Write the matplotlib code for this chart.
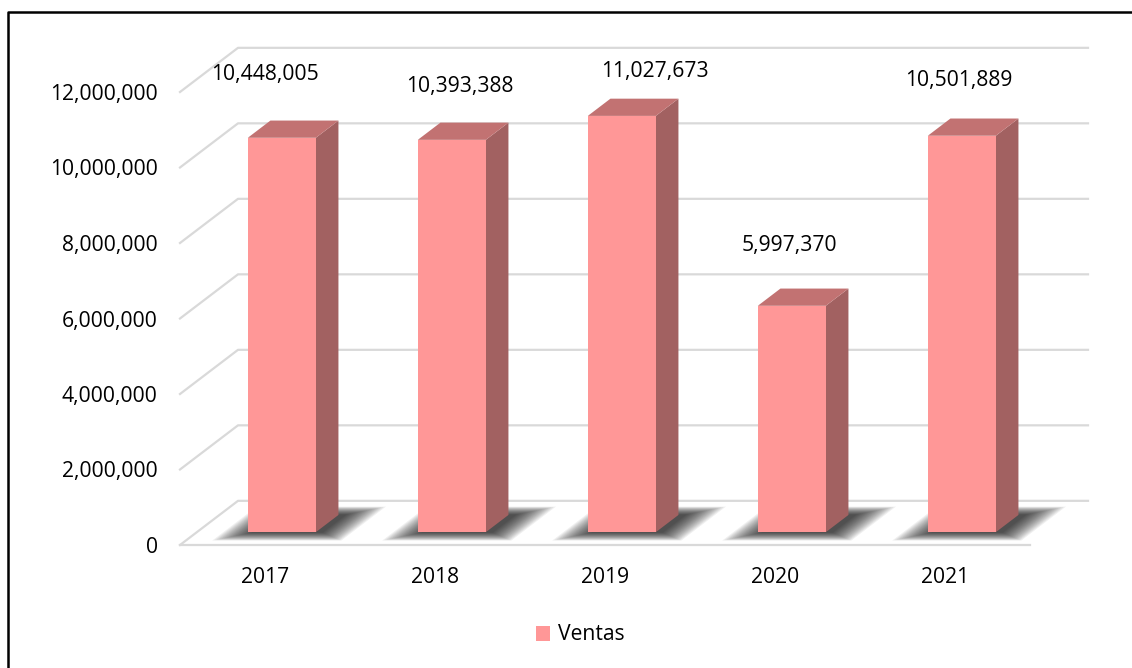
import matplotlib
matplotlib.use('Agg')
import matplotlib.pyplot as plt
from matplotlib.patches import Polygon
from matplotlib.lines import Line2D
from matplotlib.ticker import FuncFormatter

plt.rcParams['font.family'] = ['Open Sans', 'DejaVu Sans']

years = ['2017', '2018', '2019', '2020', '2021']
ventas = [10448005, 10393388, 11027673, 5997370, 10501889]
y_ticks = [0, 2000000, 4000000, 6000000, 8000000, 10000000, 12000000]

# label offsets from the top-front centre of each bar (pixels)
label_off = [(-17, 63), (8, 53), (33, 44), (-2, 60), (-3, 55)]

W, H = 1132, 668
front = '#FF9797'
top_c = '#C27272'
side_c = '#A26161'
grid_c = '#D9D9D9'
fs = 15.2

# oblique depth: full floor depth in data units
DX = 58 / 170.0
DY = 1.17e6
ZF, ZB = 0.29, 0.68
BW = 0.4


def proj(x, y, z):
    return (x + z * DX, y + z * DY)


fig = plt.figure(figsize=(W / 100, H / 100), dpi=100)
ax = fig.add_axes([180 / W, (H - 545) / H, 850 / W, 453 / H])
ax.set_xlim(-0.5, 4.5)
ax.set_ylim(0, 12e6)
for s in ax.spines.values():
    s.set_visible(False)

ax.set_xticks(range(len(years)))
ax.set_xticklabels(years)
ax.set_yticks(y_ticks)
ax.yaxis.set_major_formatter(FuncFormatter(lambda v, p: '{:,.0f}'.format(v)))
ax.tick_params(length=0, pad=16, labelsize=fs, labelcolor='#000000')

# back wall grid and left side edges
for v in y_ticks:
    ax.plot([proj(-0.5, v, 0)[0], proj(-0.5, v, 1)[0], proj(4.5, v, 1)[0]],
            [proj(-0.5, v, 0)[1], proj(-0.5, v, 1)[1], proj(4.5, v, 1)[1]],
            color=grid_c, lw=1.6, clip_on=False, zorder=1)
ax.plot([-0.5, 4.5], [0, 0], color=grid_c, lw=1.6, clip_on=False, zorder=1)

# soft shadows on the floor
n = 18
for i, v in enumerate(ventas):
    for k in range(n):
        t = k / (n - 1)
        mx = 0.17 * (1 - t) + 0.01
        mz = 0.18 * (1 - t) + 0.01
        sx = 0.035
        pts = [proj(i - BW / 2 - mx + sx, 0, ZF - mz),
               proj(i + BW / 2 + mx + sx, 0, ZF - mz),
               proj(i + BW / 2 + mx + sx, 0, ZB + mz),
               proj(i - BW / 2 - mx + sx, 0, ZB + mz)]
        ax.add_patch(Polygon(pts, closed=True, fc='black', ec='none',
                             alpha=0.06, clip_on=False, zorder=2))

# bars: front face, side and top
xs = [i + ZF * DX for i in range(len(years))]
ax.bar(xs, ventas, width=BW, bottom=ZF * DY, color=front, zorder=4,
       clip_on=False, label='Ventas')
for i, v in enumerate(ventas):
    side = [proj(i + BW / 2, 0, ZF), proj(i + BW / 2, 0, ZB),
            proj(i + BW / 2, v, ZB), proj(i + BW / 2, v, ZF)]
    top = [proj(i - BW / 2, v, ZF), proj(i + BW / 2, v, ZF),
           proj(i + BW / 2, v, ZB), proj(i - BW / 2, v, ZB)]
    ax.add_patch(Polygon(side, closed=True, fc=side_c, ec='none',
                         clip_on=False, zorder=3))
    ax.add_patch(Polygon(top, closed=True, fc=top_c, ec='none',
                         clip_on=False, zorder=3))
    ax.annotate('{:,}'.format(v), xy=proj(i, v, ZF), xytext=label_off[i],
                textcoords='offset pixels', ha='center', va='center',
                fontsize=fs, color='#000000', annotation_clip=False)

fig.legend(loc='center', bbox_to_anchor=(580 / W, 1 - 635 / H), frameon=False,
           fontsize=fs, handlelength=0.7, handleheight=0.7,
           handletextpad=0.35)

# chart border (left and top edges)
fig.add_artist(Line2D([8 / W, 8 / W, 1.0], [0.0, 1 - 12 / H, 1 - 12 / H],
                      transform=fig.transFigure, color='black', lw=1.8))

fig.savefig('out.png', dpi=100)
